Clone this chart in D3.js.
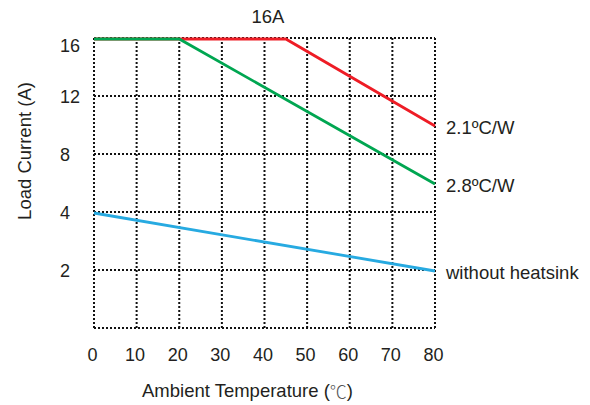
<!DOCTYPE html>
<html><head><meta charset="utf-8">
<script src="https://cdn.jsdelivr.net/npm/d3@7"></script>
<style>body{margin:0;background:#fff;} svg{display:block;font-family:"Liberation Sans",Arial,sans-serif;}</style>
</head><body>
<svg id="c" width="590" height="405"></svg>
<script>
const xTicks = [0,10,20,30,40,50,60,70,80];
const yLevels = [0,2,4,8,12,16];
const yTickLabels = ["","2","4","8","12","16"];
const seriesNames = ["2.1ºC/W","2.8ºC/W","without heatsink"];
const seriesColors = ["#ee1c25","#00a651","#27aae1"];
const redT = [0,45,80], redI = [16,16,10];
const greenT = [0,20,80], greenI = [16,16,6];
const blueT = [0,80], blueI = [4,2];
const titleText = "16A";
const xTitle = "Ambient Temperature (";
const yTitle = "Load Current (A)";

const svg = d3.select("#c");
const x = d3.scaleLinear().domain([0,80]).range([94,435]);
const y = d3.scaleLinear().domain(yLevels).range([328,270,212,154,96,38]);
const ink = "#231f20";

// grid
const g = svg.append("g").attr("stroke","#111").attr("stroke-width",2).attr("stroke-dasharray","2,2").attr("fill","none");
g.selectAll("line.v").data(xTicks).join("line")
  .attr("x1",d=>x(d)).attr("x2",d=>x(d)).attr("y1",y(16)).attr("y2",y(0));
g.selectAll("line.h").data(yLevels).join("line").attr("class","h")
  .attr("y1",d=>y(d)).attr("y2",d=>y(d)).attr("x1",x(0)).attr("x2",x(80));

// lines
const series = [[redT,redI],[greenT,greenI],[blueT,blueI]];
const line = d3.line().x(d=>x(d[0])).y(d=>y(d[1])+1);
series.forEach((s,i)=>{
  const pts = s[0].map((t,k)=>[t,s[1][k]]);
  svg.append("path").attr("d",line(pts)).attr("fill","none")
    .attr("stroke",seriesColors[i]).attr("stroke-width",2.8);
  svg.append("text").attr("x",446).attr("y",y(s[1][s[1].length-1])+2)
    .attr("dominant-baseline","central").attr("font-size",18.5).attr("fill",ink)
    .text(seriesNames[i]);
});

// y tick labels
svg.selectAll("text.yt").data(yLevels).join("text").attr("class","yt")
  .attr("x",60).attr("y",d=>y(d)+(d===16?8:1)).attr("dominant-baseline","central")
  .attr("font-size",18).attr("fill",ink).text((d,i)=>yTickLabels[i]);

// x tick labels
svg.selectAll("text.xt").data(xTicks).join("text").attr("class","xt")
  .attr("x",d=>x(d)-1.5).attr("y",355).attr("dominant-baseline","central")
  .attr("text-anchor","middle").attr("font-size",18).attr("fill",ink).text(d=>d);

// title
svg.append("text").attr("x",268).attr("y",16).attr("dominant-baseline","central")
  .attr("text-anchor","middle").attr("font-size",18.5).attr("fill",ink).text(titleText);

// x title
const xt = svg.append("text").attr("x",142).attr("y",390).attr("dominant-baseline","central")
  .attr("font-size",18.5).attr("fill",ink);
xt.append("tspan").text(xTitle);
xt.append("tspan").attr("font-family","Noto Sans CJK SC").attr("font-weight",300).attr("font-size",17).attr("fill","#555").text("℃");
xt.append("tspan").text(")");

// y title
svg.append("text").attr("transform","translate(24,151) rotate(-90)").attr("dominant-baseline","central")
  .attr("text-anchor","middle").attr("font-size",18.5).attr("fill",ink).text(yTitle);
</script>
</body></html>
